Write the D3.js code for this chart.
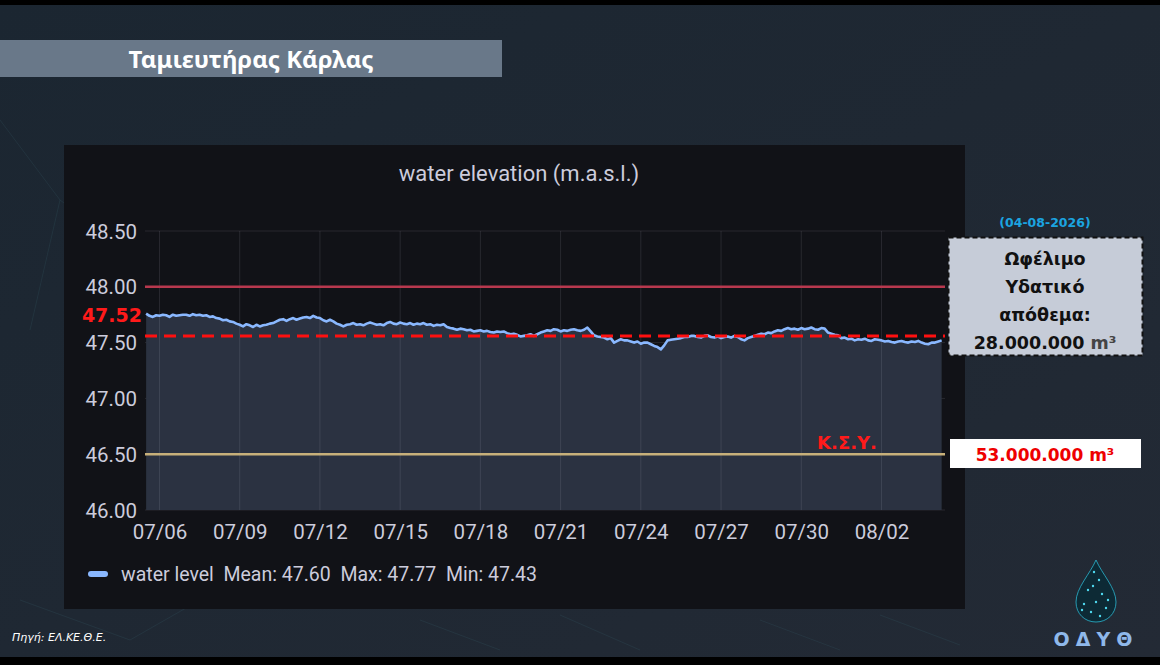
<!DOCTYPE html>
<html>
<head>
<meta charset="utf-8">
<script src="https://cdn.jsdelivr.net/npm/d3@7"></script>
<style>
  body { margin: 0; background: #000; }
  svg { display: block; }
</style>
</head>
<body>
<svg id="chart" width="1160" height="665"></svg>
<script>
"use strict";

// water level, 3-hourly from 2026-07-05 12:00
var startTime = "2026-07-05T12:00:00";
var stepHours = 3;
var levels = [
  47.76, 47.74, 47.73, 47.745,
  47.74, 47.75, 47.745, 47.73, 47.75, 47.74, 47.745, 47.75,
  47.75, 47.74, 47.755, 47.745, 47.75, 47.74, 47.745, 47.73,
  47.735, 47.72, 47.715, 47.70, 47.705, 47.69, 47.685, 47.67,
  47.66, 47.645, 47.665, 47.655, 47.64, 47.66, 47.645, 47.655,
  47.66, 47.67, 47.675, 47.69, 47.705, 47.71, 47.695, 47.71,
  47.72, 47.705, 47.715, 47.725, 47.73, 47.72, 47.74, 47.725,
  47.72, 47.70, 47.69, 47.705, 47.69, 47.67, 47.66, 47.645,
  47.66, 47.665, 47.675, 47.66, 47.665, 47.655, 47.67, 47.68,
  47.67, 47.66, 47.665, 47.655, 47.675, 47.685, 47.67, 47.665,
  47.68, 47.67, 47.665, 47.675, 47.66, 47.67, 47.665, 47.675,
  47.66, 47.665, 47.65, 47.66, 47.655, 47.665, 47.64, 47.63,
  47.625, 47.615, 47.625, 47.62, 47.61, 47.615, 47.60, 47.605,
  47.61, 47.60, 47.605, 47.595, 47.59, 47.60, 47.595, 47.60,
  47.585, 47.575, 47.58, 47.57, 47.555, 47.56, 47.565, 47.575,
  47.56, 47.575, 47.59, 47.60, 47.61, 47.605, 47.62, 47.615,
  47.60, 47.61, 47.605, 47.615, 47.62, 47.61, 47.605, 47.615,
  47.635, 47.60, 47.565, 47.555, 47.55, 47.545, 47.53, 47.54,
  47.50, 47.515, 47.53, 47.52, 47.52, 47.51, 47.50, 47.51,
  47.49, 47.50, 47.50, 47.485, 47.47, 47.46, 47.44, 47.475,
  47.52, 47.525, 47.53, 47.535, 47.54, 47.55, 47.55, 47.56,
  47.56, 47.55, 47.545, 47.56, 47.565, 47.55, 47.545, 47.555,
  47.54, 47.55, 47.555, 47.545, 47.56, 47.55, 47.53, 47.52,
  47.54, 47.55, 47.56, 47.57, 47.58, 47.575, 47.59, 47.585,
  47.60, 47.61, 47.605, 47.62, 47.63, 47.62, 47.625, 47.615,
  47.63, 47.62, 47.625, 47.635, 47.62, 47.615, 47.63, 47.625,
  47.59, 47.58, 47.57, 47.565, 47.54, 47.545, 47.53, 47.535,
  47.52, 47.53, 47.525, 47.535, 47.52, 47.515, 47.53, 47.525,
  47.52, 47.51, 47.515, 47.505, 47.50, 47.51, 47.515, 47.505,
  47.50, 47.51, 47.505, 47.515, 47.50, 47.49, 47.485, 47.50,
  47.50, 47.51, 47.52
];

var xDomain = ["2026-07-05T11:00:00", "2026-08-04T09:00:00"];
var xTickDates = ["2026-07-06", "2026-07-09", "2026-07-12", "2026-07-15", "2026-07-18",
                  "2026-07-21", "2026-07-24", "2026-07-27", "2026-07-30", "2026-08-02"];
var yTicks = [46.0, 46.5, 47.0, 47.5, 48.0, 48.5];
var yDomain = [46.0, 48.5];

var upperLimit = 48.0;     // red threshold
var lowerLimit = 46.5;     // Κ.Σ.Υ.
var currentLevel = 47.56;  // dashed marker
var currentLabel = "47.52";

var legendText = "water level  Mean: 47.60  Max: 47.77  Min: 47.43";
var boxLines = ["Ωφέλιμο", "Υδατικό", "απόθεμα:"];
var storageValue = "28.000.000";
var deadStorage = "53.000.000";
var reportDate = "(04-08-2026)";

var svg = d3.select("#chart");
var defs = svg.append("defs");

var bg = defs.append("linearGradient").attr("id", "bg").attr("x1", 0).attr("y1", 0).attr("x2", 1).attr("y2", 1);
bg.append("stop").attr("offset", "0%").attr("stop-color", "#1b2631");
bg.append("stop").attr("offset", "100%").attr("stop-color", "#232a35");

svg.append("rect").attr("width", 1160).attr("height", 665).attr("fill", "#000");
svg.append("rect").attr("y", 5).attr("width", 1160).attr("height", 652).attr("fill", "url(#bg)");

// faint network decoration
var net = svg.append("g").attr("stroke", "#2f4a55").attr("stroke-opacity", 0.35).attr("fill", "none");
[[0, 120, 60, 200], [60, 200, 30, 330], [60, 200, 140, 260], [20, 600, 130, 640], [130, 640, 200, 600],
 [420, 620, 500, 650], [560, 615, 640, 650], [760, 620, 840, 650], [880, 615, 960, 645]].forEach(function(l){
  net.append("line").attr("x1", l[0]).attr("y1", l[1]).attr("x2", l[2]).attr("y2", l[3]);
});

// title bar
svg.append("rect").attr("x", 0).attr("y", 40).attr("width", 502).attr("height", 37).attr("fill", "#697889");
svg.append("text").attr("x", 251).attr("y", 68).attr("text-anchor", "middle")
  .attr("font-family", "Noto Sans").attr("font-weight", "bold").attr("font-size", 24)
  .attr("fill", "#fff").text("Ταμιευτήρας Κάρλας");

// panel
svg.append("rect").attr("x", 64).attr("y", 145).attr("width", 901).attr("height", 464).attr("fill", "#111217");
svg.append("text").attr("x", 519).attr("y", 181).attr("text-anchor", "middle")
  .attr("font-family", "Roboto").attr("font-size", 22).attr("fill", "#ccccdc")
  .text("water elevation (m.a.s.l.)");

var parseT = d3.isoParse;
var t0 = parseT(startTime);
var series = levels.map(function(v, i){
  return { t: d3.timeHour.offset(t0, i * stepHours), v: v };
});

var x = d3.scaleTime().domain(xDomain.map(parseT)).range([145, 945]);
var y = d3.scaleLinear().domain(yDomain).range([510, 231]);

var plot = svg.append("g");

// grid
plot.append("g").selectAll("line").data(yTicks).enter().append("line")
  .attr("x1", 145).attr("x2", 945)
  .attr("y1", function(d){ return y(d); }).attr("y2", function(d){ return y(d); })
  .attr("stroke", "#ccccdc").attr("stroke-opacity", 0.12);

// area under the line
var area = d3.area().x(function(d){ return x(d.t); }).y0(y(yDomain[0])).y1(function(d){ return y(d.v); });
plot.append("path").datum(series).attr("d", area).attr("fill", "#2b3241");

plot.append("g").selectAll("line").data(xTickDates).enter().append("line")
  .attr("x1", function(d){ return x(parseT(d)); }).attr("x2", function(d){ return x(parseT(d)); })
  .attr("y1", 231).attr("y2", 510)
  .attr("stroke", "#ccccdc").attr("stroke-opacity", 0.12);

// thresholds
plot.append("line").attr("x1", 145).attr("x2", 945).attr("y1", y(upperLimit)).attr("y2", y(upperLimit))
  .attr("stroke", "#b8384e").attr("stroke-width", 2.5);
plot.append("line").attr("x1", 145).attr("x2", 945).attr("y1", y(lowerLimit)).attr("y2", y(lowerLimit))
  .attr("stroke", "#c7b07a").attr("stroke-width", 2.5);

// series line
var line = d3.line().x(function(d){ return x(d.t); }).y(function(d){ return y(d.v); });
plot.append("path").datum(series).attr("d", line).attr("fill", "none")
  .attr("stroke", "#8ab8ff").attr("stroke-width", 2.6).attr("stroke-linejoin", "round");

// current level dashed marker
plot.append("line").attr("x1", 145).attr("x2", 945).attr("y1", y(currentLevel)).attr("y2", y(currentLevel))
  .attr("stroke", "#ff1010").attr("stroke-width", 3).attr("stroke-dasharray", "12,7");

// axes
var yAxis = d3.axisLeft(y).tickValues(yTicks).tickFormat(d3.format(".2f")).tickSize(0).tickPadding(8);
var yg = svg.append("g").attr("transform", "translate(145,0)").call(yAxis);
var xAxis = d3.axisBottom(x).tickValues(xTickDates.map(parseT)).tickFormat(d3.timeFormat("%m/%d")).tickSize(0).tickPadding(12);
var xg = svg.append("g").attr("transform", "translate(0,512)").call(xAxis);
[yg, xg].forEach(function(g){
  g.select(".domain").remove();
  g.selectAll("text").attr("font-family", "Roboto").attr("font-size", 20.5).attr("fill", "#ccccdc");
});
yg.selectAll("text").attr("dy", "0.35em");

// current label
svg.append("text").attr("x", 142).attr("y", 322).attr("text-anchor", "end")
  .attr("font-family", "DejaVu Sans").attr("font-weight", "bold").attr("font-size", 19)
  .attr("fill", "#ff1a1a").text(currentLabel);

// Κ.Σ.Υ. label
svg.append("text").attr("x", 847).attr("y", y(lowerLimit) - 5).attr("text-anchor", "middle")
  .attr("font-family", "DejaVu Sans").attr("font-weight", "bold").attr("font-size", 18)
  .attr("fill", "#ff1a1a").text("Κ.Σ.Υ.");

// legend
svg.append("rect").attr("x", 88).attr("y", 571).attr("width", 20).attr("height", 6).attr("rx", 3)
  .attr("fill", "#8ab8ff");
svg.append("text").attr("x", 121).attr("y", 581).attr("font-family", "Roboto").attr("font-size", 19.5)
  .attr("fill", "#ccccdc").attr("xml:space", "preserve").style("white-space", "pre").text(legendText);

// right info box
svg.append("text").attr("x", 1045).attr("y", 227).attr("text-anchor", "middle")
  .attr("font-family", "DejaVu Sans").attr("font-weight", "bold").attr("font-size", 12.5)
  .attr("fill", "#1ba4e0").text(reportDate);
svg.append("rect").attr("x", 948.5).attr("y", 237.5).attr("width", 194).attr("height", 118)
  .attr("fill", "#c6ccd8").attr("stroke", "#111").attr("stroke-width", 2).attr("stroke-dasharray", "5,3");
var bl = svg.append("g").attr("font-family", "DejaVu Sans").attr("font-weight", "bold").attr("font-size", 17.5)
  .attr("fill", "#111").attr("text-anchor", "middle");
boxLines.forEach(function(s, i){
  bl.append("text").attr("x", 1045).attr("y", 265 + i * 28).text(s);
});
var st = bl.append("text").attr("x", 1045).attr("y", 349);
st.append("tspan").text(storageValue + " ");
st.append("tspan").attr("fill", "#444").text("m³");

svg.append("rect").attr("x", 950).attr("y", 439).attr("width", 191).attr("height", 29).attr("fill", "#fff");
var ds = svg.append("text").attr("x", 1045).attr("y", 461).attr("text-anchor", "middle")
  .attr("font-family", "DejaVu Sans").attr("font-weight", "bold").attr("font-size", 17)
  .attr("fill", "#ee0000");
ds.append("tspan").text(deadStorage + " m³");

// source
svg.append("text").attr("x", 12).attr("y", 641).attr("font-family", "DejaVu Sans").attr("font-style", "italic")
  .attr("font-size", 11).attr("fill", "#fff").text("Πηγή: ΕΛ.ΚΕ.Θ.Ε.");

// logo
var logo = svg.append("g").attr("transform", "translate(1096,560)");
logo.append("path").attr("d", "M0,0 C-6,14 -20,28 -20,42 C-20,54 -11,62 0,62 C11,62 20,54 20,42 C20,28 6,14 0,0 Z")
  .attr("fill", "#0d2a35").attr("stroke", "#2bb5d0").attr("stroke-width", 1).attr("stroke-opacity", 0.8);
[[-2, 12], [3, 20], [-8, 30], [6, 34], [-12, 44], [0, 42], [10, 48], [-5, 52], [4, 56], [-14, 50], [12, 40], [-3, 26]]
  .forEach(function(p){
    logo.append("circle").attr("cx", p[0]).attr("cy", p[1]).attr("r", 1.2).attr("fill", "#4fd8ee");
  });
svg.append("text").attr("x", 1096).attr("y", 646).attr("text-anchor", "middle")
  .attr("font-family", "DejaVu Sans").attr("font-weight", "bold").attr("font-size", 19)
  .attr("letter-spacing", 6).attr("fill", "#8fb8ea").text("ΟΔΥΘ");
</script>
</body>
</html>
